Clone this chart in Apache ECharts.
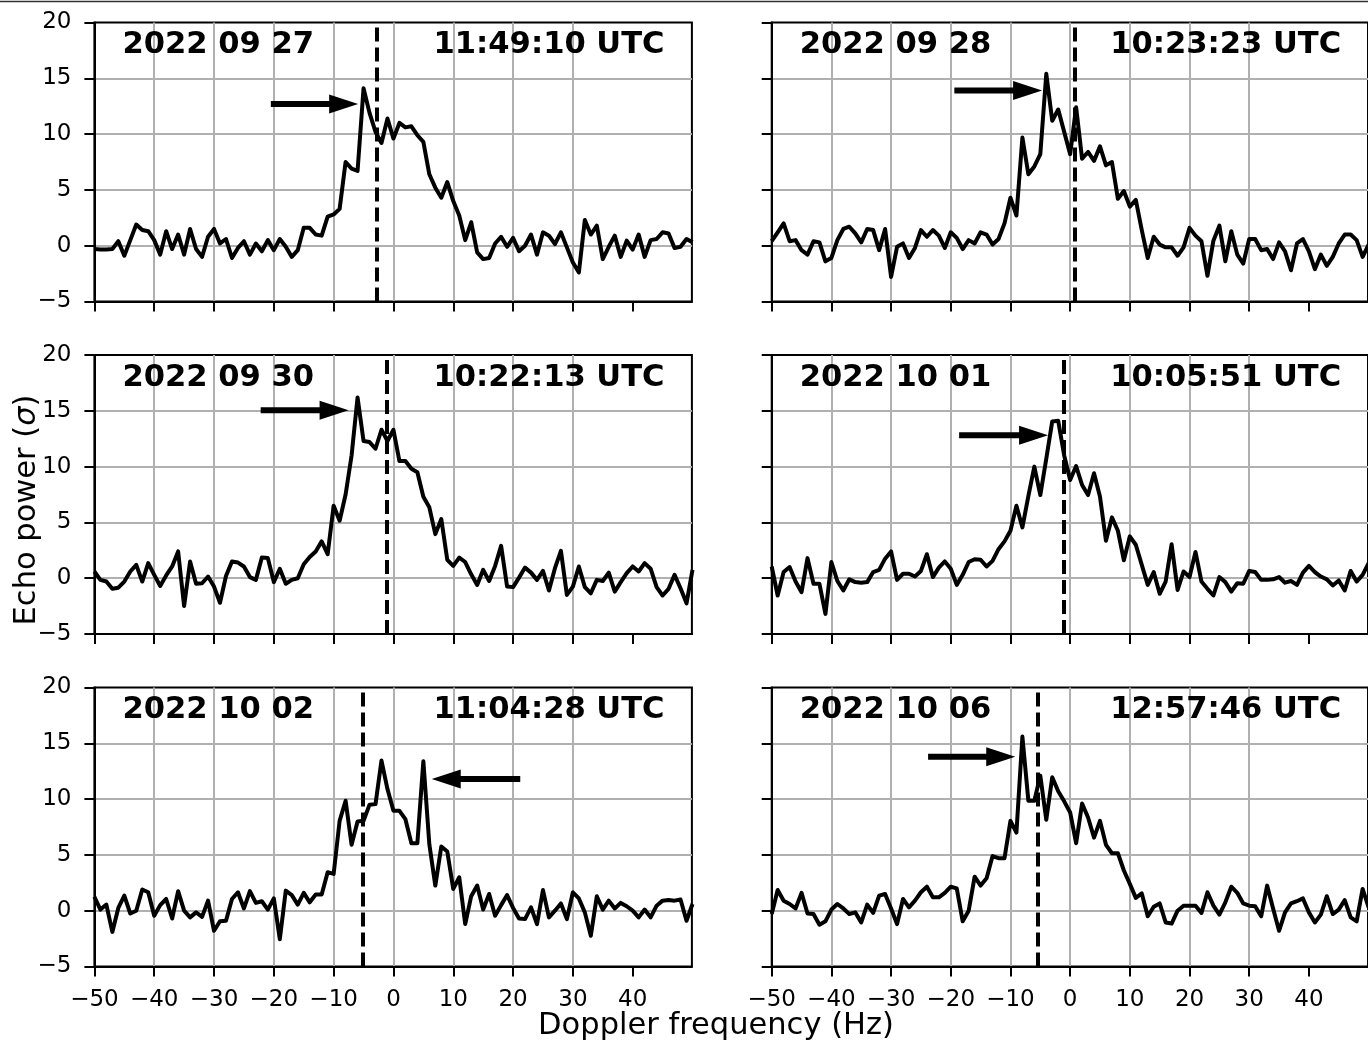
<!DOCTYPE html>
<html>
<head>
<meta charset="utf-8">
<title>Echo power spectra</title>
<script src="https://cdn.jsdelivr.net/npm/echarts@6.0.0/dist/echarts.min.js"></script>
<style>
html, body { margin: 0; padding: 0; background: #fff; }
#main { width: 1368px; height: 1043px; }
</style>
</head>
<body>
<div id="main"></div>
<script>
// Doppler frequency bins (Hz)
var freq = [];
for (var f = -50; f <= 50; f++) freq.push(f);

var xTicks = [-50, -40, -30, -20, -10, 0, 10, 20, 30, 40];

var dates = ['2022 09 27', '2022 09 28', '2022 09 30', '2022 10 01', '2022 10 02', '2022 10 06'];
var times = ['11:49:10 UTC', '10:23:23 UTC', '10:22:13 UTC', '10:05:51 UTC', '11:04:28 UTC', '12:57:46 UTC'];

// dashed line position (Hz)
var dopplerLine = [-2.8, 0.8, -1.1, -1.0, -5.2, -5.35];

// arrows: [tail Hz, tip Hz, height sigma]
var arrows = [
	[-20.5, -5.9, 12.7],
	[-19.4, -4.7, 13.9],
	[-22.2, -7.5, 15.05],
	[-18.6, -3.7, 12.8],
	[21.2, 6.4, 11.8],
	[-23.8, -9.2, 13.8]
];

// echo power (sigma), one value per bin from -50 to 50 Hz
var power0927 = [
	-0.3, -0.35, -0.35, -0.3, 0.4, -0.9, 0.5, 1.9, 1.4, 1.3,
	0.5, -0.8, 1.3, -0.3, 1.0, -0.8, 1.5, -0.3, -1.0, 0.8,
	1.5, 0.2, 0.6, -1.1, -0.2, 0.4, -0.8, 0.2, -0.5, 0.5,
	-0.4, 0.6, -0.1, -1.0, -0.4, 1.6, 1.6, 1.0, 0.9, 2.6,
	2.8, 3.3, 7.5, 6.9, 6.7, 14.1, 11.9, 10.2, 9.2, 11.4,
	9.6, 11.0, 10.6, 10.7, 9.9, 9.3, 6.4, 5.2, 4.3, 5.7,
	4.0, 2.7, 0.5, 2.1, -0.6, -1.2, -1.1, 0.2, 0.8, -0.1,
	0.7, -0.5, 0, 1.0, -0.8, 1.2, 0.9, 0.15, 1.2, -0.15,
	-1.5, -2.4, 2.3, 1.0, 1.8, -1.2, -0.1, 0.9, -1.0, 0.45,
	-0.35, 1.0, -1.0, 0.5, 0.6, 1.2, 1.1, -0.2, -0.1, 0.6,
	0.3
];
var power0928 = [
	0.4, 1.2, 2.0, 0.4, 0.5, -0.4, -0.8, 0.4, 0.3, -1.4,
	-1.1, 0.5, 1.5, 1.7, 1.1, 0.3, 1.5, 1.4, -0.4, 1.5,
	-2.8, -0.1, 0.2, -1.1, -0.2, 1.4, 0.8, 1.4, 0.9, -0.2,
	1.2, 0.7, -0.3, 0.5, 0.2, 1.2, 1.0, 0.1, 0.6, 2.0,
	4.3, 2.7, 9.7, 6.4, 7.1, 8.2, 15.4, 11.2, 12.2, 10.2,
	8.2, 12.4, 7.8, 8.4, 7.6, 8.9, 7.2, 7.5, 4.2, 4.9,
	3.5, 4.1, 1.4, -1.1, 0.8, 0.1, -0.15, -0.15, -0.9, -0.15,
	1.6, 0.9, 0.4, -2.7, 0.45, 1.8, -1.4, 1.3, -0.8, -1.6,
	0.6, 0.6, -0.4, -0.3, -1.2, 0.3, -0.5, -2.2, 0.2, 0.6,
	-0.5, -2.1, -0.8, -1.8, -1.0, 0.2, 1.0, 1.0, 0.5, -1.0,
	0.1
];
var power0930 = [
	0.6, -0.15, -0.3, -0.95, -0.85, -0.3, 0.6, 1.2, -0.3, 1.35,
	0.3, -0.7, 0.25, 1.05, 2.4, -2.5, 1.5, -0.5, -0.45, 0.15,
	-0.75, -2.2, 0.2, 1.5, 1.4, 1.05, 0.1, -0.15, 1.85, 1.8,
	-0.35, 0.85, -0.5, -0.15, 0, 1.25, 1.9, 2.4, 3.3, 2.15,
	6.5, 5.15, 7.5, 11.0, 16.2, 12.3, 12.2, 11.6, 13.3, 12.3,
	13.3, 10.5, 10.5, 9.8, 9.5, 7.3, 6.35, 3.95, 5.3, 1.65,
	1.1, 1.85, 1.45, 0.35, -0.6, 0.75, -0.25, 1.1, 2.9, -0.75,
	-0.8, 0.05, 0.95, 0.5, -0.15, 0.65, -1.1, 0.9, 2.45, -1.5,
	-0.75, 1.05, -0.8, -1.35, -0.15, -0.25, 0.5, -1.2, -0.35, 0.45,
	1.05, 0.6, 1.35, 0.85, -0.8, -1.55, -0.95, 0.3, -0.9, -2.25,
	0.75
];
var power1001 = [
	1.05, -1.55, 0.55, 1.0, -0.3, -1.25, 1.8, -0.5, -0.5, -3.2,
	1.45, -0.25, -1.1, -0.1, -0.35, -0.4, -0.35, 0.55, 0.75, 1.75,
	2.4, -0.15, 0.4, 0.4, 0.15, 0.65, 2.15, 0.1, 0.95, 1.5,
	0.85, -0.6, 0.3, 1.45, 1.7, 1.65, 1.05, 1.55, 2.6, 3.3,
	4.25, 6.5, 4.55, 7.35, 10.0, 7.45, 10.7, 14.05, 14.1, 11.0,
	8.8, 10.05, 8.35, 7.45, 9.4, 7.3, 3.35, 5.45, 4.25, 1.6,
	3.75, 3.0, 1.2, -0.6, 0.55, -1.4, -0.3, 3.05, -1.05, 0.6,
	0.1, 2.35, -0.3, -0.95, -1.55, 0.1, -0.35, -1.2, -0.45, -0.5,
	0.65, 0.55, -0.15, -0.15, -0.1, 0.1, -0.4, -0.25, -0.6, 0.5,
	1.1, 0.55, 0.15, -0.1, -0.65, -0.2, -1.1, 0.65, -0.3, 0.3,
	1.35
];
var power1002 = [
	1.25, 0.1, 0.55, -1.9, 0.25, 1.35, -0.25, 0, 1.9, 1.65,
	-0.45, 0.5, 1.05, -0.7, 1.75, 0, -0.6, -0.15, -0.55, 0.9,
	-1.8, -0.95, -0.9, 1.05, 1.65, 0.2, 1.75, 0.7, 0.85, 0.1,
	1.1, -2.55, 1.8, 1.4, 0.55, 1.6, 0.75, 1.45, 1.45, 3.45,
	3.3, 8.05, 9.85, 5.9, 8.0, 8.05, 9.5, 9.55, 13.45, 10.9,
	8.95, 8.95, 8.2, 6.05, 6.05, 13.4, 5.95, 2.25, 5.75, 5.3,
	1.95, 3.0, -1.2, 1.3, 2.25, 0.1, 1.5, -0.45, 0.5, 1.4,
	0.25, -0.7, -0.75, 0.3, -1.2, 1.85, -0.6, 0, 0.65, -0.75,
	1.65, 1.1, -0.15, -2.25, 1.3, 0.1, 0.9, 0.2, 0.7, 0.4,
	0, -0.6, 0.1, -0.6, 0.45, 0.9, 0.95, 0.9, 1.0, -0.9,
	0.6
];
var power1006 = [
	-0.3, 1.85, 0.9, 0.6, 0.2, 1.6, -0.25, -0.3, -1.25, -0.95,
	0.1, 0.6, 0.2, -0.3, -0.15, -1.05, 0.55, -0.2, 1.35, 1.5,
	0.2, -1.2, 1.05, 0.3, 0.9, 1.65, 2.15, 1.2, 1.2, 1.6,
	2.15, 2.0, -0.95, 0, 3.05, 2.25, 2.9, 4.9, 4.7, 4.7,
	8.05, 7.0, 15.6, 9.85, 9.85, 12.1, 8.15, 11.95, 10.7, 9.8,
	8.8, 6.05, 9.6, 8.35, 6.55, 8.05, 5.9, 5.15, 5.15, 3.6,
	2.4, 1.15, 1.55, -0.5, 0.35, 0.65, -1.05, -1.15, 0, 0.45,
	0.45, 0.45, -0.2, 1.65, 0.45, -0.35, 0.75, 2.15, 1.6, 0.65,
	0.45, 0.4, -0.5, 2.25, 0.2, -1.8, -0.15, 0.65, 0.85, 1.1,
	-0.15, -1.05, -0.35, 1.3, -0.3, 0.1, 0.95, -0.6, -0.95, 1.95,
	0.3
];
var powers = [power0927, power0928, power0930, power1001, power1002, power1006];

var dom = document.getElementById('main');
var myChart = echarts.init(dom);

var FONT = '"DejaVu Sans", sans-serif';
var colLeft = [94.4, 771.7];
var rowTop = [22.5, 355, 687.5];
var panelW = 597.5;
var panelH = 279;

function minus(v) {
	return String(v).replace('-', '\u2212');
}

// arrow plus the date / time labels of one panel
function makeRenderer(i) {
	return function (params, api) {
		var tail = api.coord([api.value(0), api.value(2)]);
		var tip = api.coord([api.value(1), api.value(2)]);
		var dir = tip[0] > tail[0] ? 1 : -1;
		var headLen = 29, headHalf = 9.5, shaftHalf = 3;
		var base = tip[0] - dir * headLen;
		var y = tip[1];
		var pDate = api.coord([-45.3, 17.95]);
		var pTime = api.coord([6.7, 17.95]);
		return {
			type: 'group',
			children: [{
				type: 'polygon',
				shape: {
					points: [
						[tail[0], y - shaftHalf], [base, y - shaftHalf], [base, y - headHalf],
						[tip[0], y], [base, y + headHalf], [base, y + shaftHalf], [tail[0], y + shaftHalf]
					]
				},
				style: { fill: '#000' }
			}, {
				type: 'text',
				x: pDate[0],
				y: pDate[1],
				style: { text: dates[i], font: 'bold 30.6px ' + FONT, fill: '#000', align: 'left', verticalAlign: 'middle' }
			}, {
				type: 'text',
				x: pTime[0],
				y: pTime[1],
				style: { text: times[i], font: 'bold 30.6px ' + FONT, fill: '#000', align: 'left', verticalAlign: 'middle' }
			}]
		};
	};
}

var grids = [], xAxes = [], yAxes = [], series = [];
for (var i = 0; i < 6; i++) {
	var col = i % 2, row = Math.floor(i / 2);
	grids.push({
		left: colLeft[col],
		top: rowTop[row],
		width: panelW,
		height: panelH,
		show: true,
		borderColor: '#000',
		borderWidth: 2,
		backgroundColor: 'transparent'
	});
	xAxes.push({
		type: 'value',
		gridIndex: i,
		min: -50,
		max: 49.9,
		interval: 10,
		axisLine: { show: true, onZero: false, lineStyle: { color: '#000', width: 2 } },
		axisTick: { show: true, length: 10, customValues: xTicks, lineStyle: { color: '#000', width: 2 } },
		axisLabel: {
			show: row === 2,
			customValues: xTicks,
			margin: 22,
			fontSize: 23,
			fontFamily: FONT,
			color: '#000',
			formatter: minus
		},
		splitLine: { show: true, showMinLine: false, showMaxLine: false, lineStyle: { color: '#b0b0b0', width: 2 } }
	});
	yAxes.push({
		type: 'value',
		gridIndex: i,
		min: -5,
		max: 20,
		interval: 5,
		axisLine: { show: true, onZero: false, lineStyle: { color: '#000', width: 2 } },
		axisTick: { show: true, length: 10, lineStyle: { color: '#000', width: 2 } },
		axisLabel: {
			show: col === 0,
			margin: 23,
			fontSize: 23,
			fontFamily: FONT,
			color: '#000',
			formatter: minus
		},
		splitLine: { show: true, showMinLine: false, showMaxLine: false, lineStyle: { color: '#b0b0b0', width: 2 } }
	});
	var pts = freq.map(function (fr, k) { return [fr, powers[i][k]]; });
	series.push({
		type: 'line',
		xAxisIndex: i,
		yAxisIndex: i,
		data: pts,
		showSymbol: false,
		symbol: 'none',
		clip: true,
		z: 3,
		lineStyle: { color: '#000', width: 4, join: 'round' },
		markLine: {
			silent: true,
			symbol: ['none', 'none'],
			label: { show: false },
			lineStyle: { color: '#000', width: 4, type: [14, 6] },
			data: [{ xAxis: dopplerLine[i] }]
		}
	});
	series.push({
		type: 'custom',
		xAxisIndex: i,
		yAxisIndex: i,
		silent: true,
		clip: false,
		z: 5,
		data: [arrows[i]],
		renderItem: makeRenderer(i)
	});
}

option = {
	animation: false,
	textStyle: { fontFamily: FONT },
	grid: grids,
	xAxis: xAxes,
	yAxis: yAxes,
	series: series,
	graphic: [{
		type: 'line',
		shape: { x1: 0, y1: 1.5, x2: 1368, y2: 1.5 },
		style: { stroke: '#333', lineWidth: 1.5 }
	}, {
		type: 'text',
		x: 716,
		y: 1026,
		style: { text: 'Doppler frequency (Hz)', font: '30.5px ' + FONT, fill: '#000', align: 'center', verticalAlign: 'middle' }
	}, {
		type: 'text',
		x: 27,
		y: 510,
		rotation: Math.PI / 2,
		style: {
			text: 'Echo power ({i|σ})',
			font: '30.5px ' + FONT,
			fill: '#000',
			align: 'center',
			verticalAlign: 'middle',
			rich: { i: { fontStyle: 'italic', fontSize: 30.5, fontFamily: FONT } }
		}
	}]
};

if (option && typeof option === "object") {
	myChart.setOption(option, true);
}
</script>
</body>
</html>
